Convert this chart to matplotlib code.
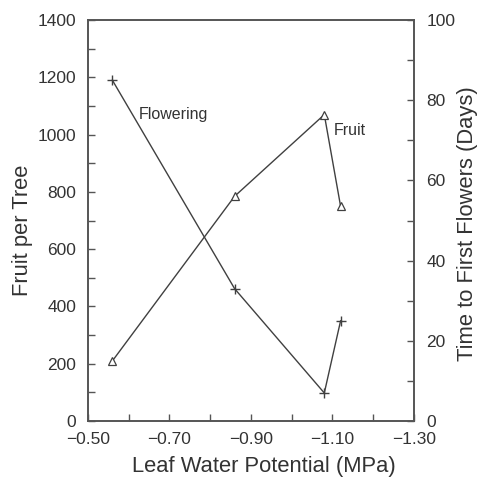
import matplotlib.pyplot as plt
from matplotlib.ticker import FixedLocator, MultipleLocator, FuncFormatter

plt.rcParams['font.family'] = ['Liberation Sans', 'DejaVu Sans']

# leaf water potential (MPa)
lwp = [-0.56, -0.86, -1.08, -1.12]
# fruit per tree (left axis)
fruit = [210, 785, 1070, 750]
# days to first flowers (right axis)
flowering_days = [85, 33, 7, 25]

x_ticks = [-0.50, -0.70, -0.90, -1.10, -1.30]
x_minor = [-0.60, -0.80, -1.00, -1.20]

col = '#404040'
txt = '#333333'

fig = plt.figure(figsize=(4.78, 4.79), dpi=100)
ax = fig.add_axes([0.184, 0.121, 0.682, 0.837])
ax2 = ax.twinx()

ax.plot(lwp, fruit, color=col, lw=1.0, marker='^', ms=6, mfc='white', mec=col, mew=0.9)
ax2.plot(lwp, flowering_days, color=col, lw=1.0, marker='+', ms=7, mew=1.0)

ax.set_xlim(-0.50, -1.30)
ax.set_ylim(0, 1400)
ax2.set_ylim(0, 100)

ax.xaxis.set_major_locator(FixedLocator(x_ticks))
ax.xaxis.set_minor_locator(FixedLocator(x_minor))
ax.xaxis.set_major_formatter(FuncFormatter(lambda v, p: f'{v:.2f}'.replace('-', '\u2212')))
ax.yaxis.set_major_locator(MultipleLocator(200))
ax.yaxis.set_minor_locator(MultipleLocator(100))
ax2.yaxis.set_major_locator(MultipleLocator(20))
ax2.yaxis.set_minor_locator(MultipleLocator(10))

for a in (ax, ax2):
    a.tick_params(which='both', direction='in', length=5, width=1, color='#555555',
                  labelsize=12.5, labelcolor=txt)
    for s in a.spines.values():
        s.set_color('#555555')
        s.set_linewidth(1.2)
ax.tick_params(axis='x', pad=8)
ax.tick_params(axis='y', pad=8.5)
ax2.tick_params(axis='y', pad=9)

ax.set_xlabel('Leaf Water Potential (MPa)', fontsize=15.8, color=txt)
ax.set_ylabel('Fruit per Tree', fontsize=15.8, color=txt)
ax2.set_ylabel('Time to First Flowers (Days)', fontsize=15.8, color=txt)
ax.xaxis.set_label_coords(0.541, -0.087)
ax.yaxis.set_label_coords(-0.169, 0.476)
ax2.yaxis.set_label_coords(1.132, 0.4925)

ax.text(-0.624, 1071, 'Flowering', fontsize=11.5, color=txt, va='center')
ax.text(-1.102, 1016, 'Fruit', fontsize=11.5, color=txt, va='center')

fig.savefig('out.png', dpi=100)
